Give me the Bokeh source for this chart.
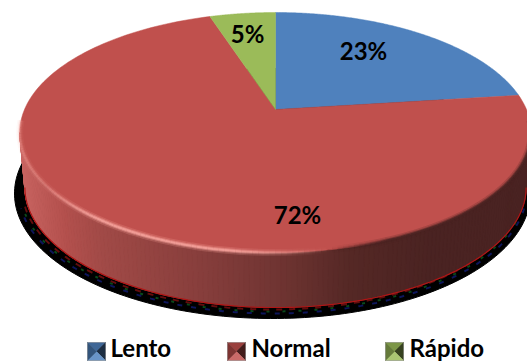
import numpy as np
from bokeh.plotting import figure
from bokeh.embed import file_html
from bokeh.resources import INLINE
from bokeh.core.properties import value

# Series
categories = ["Lento", "Normal", "Rápido"]
shares = [23, 72, 5]
colors = ["#4F81BD", "#C0504D", "#9BBB59"]

# Disc geometry on the page
APEX_X, APEX_Y = 275, 109
RADIUS_X, RADIUS_Y = 251, 115.6
TILT = 0.1917
DEPTH = 55
FOOT_SCALE = 0.98
FONT = value("Lato")


def project(theta, scale=1.0, drop=0.0):
    """Map a clockwise-from-north angle on the disc to page coordinates."""
    u, v = np.sin(theta), np.cos(theta)
    w = 1 + TILT * v
    return APEX_X + scale * RADIUS_X * u / w, APEX_Y + drop - RADIUS_Y * v / w


def mix(a, b, t):
    ca = [int(a[i:i + 2], 16) for i in (1, 3, 5)]
    cb = [int(b[i:i + 2], 16) for i in (1, 3, 5)]
    return "#%02x%02x%02x" % tuple(int(round(x + (y - x) * t)) for x, y in zip(ca, cb))


def wall_color(x):
    stops_x = [18, 60, 100, 200, 280, 350, 430, 530]
    stops = ["#c96461", "#b5514e", "#a14a47", "#873e3c", "#6f3432", "#552825", "#4a2322", "#4a2322"]
    i = int(np.clip(np.searchsorted(stops_x, x) - 1, 0, len(stops) - 2))
    return mix(stops[i], stops[i + 1], (x - stops_x[i]) / (stops_x[i + 1] - stops_x[i]))


p = figure(width=527, height=362, x_range=(0, 527), y_range=(362, 0),
           output_backend="svg", toolbar_location=None, min_border=0,
           outline_line_color=None, background_fill_color="white",
           border_fill_color="white")
p.axis.visible = False
p.grid.visible = False

# Ground shadow under the disc
t = np.linspace(0, 2 * np.pi, 240)
p.patch(272 + 258 * np.cos(t), 193 + 125 * np.sin(t), color="black")

# Coloured grain in the shadow, close to the foot of the wall
grain = np.linspace(np.radians(8), np.radians(172), 400)
for rx, ry, cy, col, dash in (
    (254, 122, 191, "#101a70", "5 9"),
    (252, 121, 190, "#0c5a20", "3 13"),
    (250, 120, 189, "#7a1010", "6 7"),
):
    p.line(272 + rx * np.cos(grain), cy + ry * np.sin(grain), line_color=col,
           line_dash=dash, line_width=2, line_alpha=0.8)

# Side wall, one narrow quad per step along the front edge
lim = np.arccos(-TILT)
front = np.linspace(lim, 2 * np.pi - lim, 161)
xs, ys, fills = [], [], []
for a, b in zip(front[:-1], front[1:]):
    x0, y0 = project(a)
    x1, y1 = project(b)
    x2, y2 = project(b, FOOT_SCALE, DEPTH)
    x3, y3 = project(a, FOOT_SCALE, DEPTH)
    xs.append([x0, x1, x2, x3])
    ys.append([y0, y1, y2, y3])
    fills.append(wall_color((x0 + x1) / 2))
p.patches(xs, ys, fill_color=fills, line_color=fills, line_width=1)

# Thin bright-red seam along the foot of the wall
fx, fy = project(front, FOOT_SCALE, DEPTH)
p.line(fx, fy, line_color="#b01515", line_width=1.2)

# Pie slices, clockwise from north
fractions = np.cumsum([0] + shares) / sum(shares)
for lo, hi, col in zip(fractions[:-1], fractions[1:], colors):
    th = np.linspace(lo, hi, 200) * 2 * np.pi
    rx, ry = project(th)
    p.patch(np.r_[APEX_X, rx], np.r_[APEX_Y, ry], fill_color=col, line_color=col, line_width=0.5)

# Bevel: light on the left of the rim, soft dark on the right
rim = np.linspace(lim - 0.1, 2 * np.pi - lim + 0.1, 161)
for width, alpha in ((7, 0.14), (4, 0.30), (2, 0.55)):
    gx, gy, gc, ga = [], [], [], []
    for a, b in zip(rim[:-1], rim[1:]):
        x0, y0 = project(a)
        x1, y1 = project(b)
        xm = (x0 + x1) / 2
        gx.append([x0, x1])
        gy.append([y0, y1])
        if xm < 330:
            gc.append("#f4a09a")
            strength = np.clip((xm - 18) / 80, 0.35, 1) * np.clip((330 - xm) / 100, 0, 1)
        else:
            gc.append("#4a2322")
            strength = np.clip((xm - 330) / 60, 0, 1)
        ga.append(min(alpha * strength * 1.6, 1))
    p.multi_line(gx, gy, line_color=gc, line_alpha=ga, line_width=width)

# Percentage labels
label_x = [363, 297, 247]
label_y = [50, 214, 33]
p.text(label_x, label_y, text=[f"{s}%" for s in shares], text_font=FONT,
       text_font_style="bold", text_font_size="24px", text_color="black",
       text_align="center", text_baseline="middle")

# Legend with bevelled swatches
swatch_x = [87, 227, 385]
text_x = [110, 251, 409]
SW = 18
SY = 342
for sx, tx, cat, col in zip(swatch_x, text_x, categories, colors):
    cx, cy = sx + SW / 2, SY + SW / 2
    faces = [
        ([sx, sx + SW, cx], [SY, SY, cy], mix(col, "#000000", 0.2)),
        ([sx + SW, sx + SW, cx], [SY, SY + SW, cy], mix(col, "#000000", 0.65)),
        ([sx, sx + SW, cx], [SY + SW, SY + SW, cy], mix(col, "#ffffff", 0.15)),
        ([sx, sx, cx], [SY, SY + SW, cy], mix(col, "#000000", 0.35)),
    ]
    for fxs, fys, fc in faces:
        p.patch(fxs, fys, fill_color=fc, line_color=fc, line_width=0.5)
    p.line([sx, sx + SW, sx + SW, sx, sx], [SY, SY, SY + SW, SY + SW, SY],
           line_color="#8a8a8a", line_dash="1 1", line_width=1)
    p.text([tx], [347], text=[cat], text_font=FONT, text_font_style="bold",
           text_font_size="24px", text_color="black", text_baseline="middle")

open("out.html", "w").write(file_html(p, INLINE))
